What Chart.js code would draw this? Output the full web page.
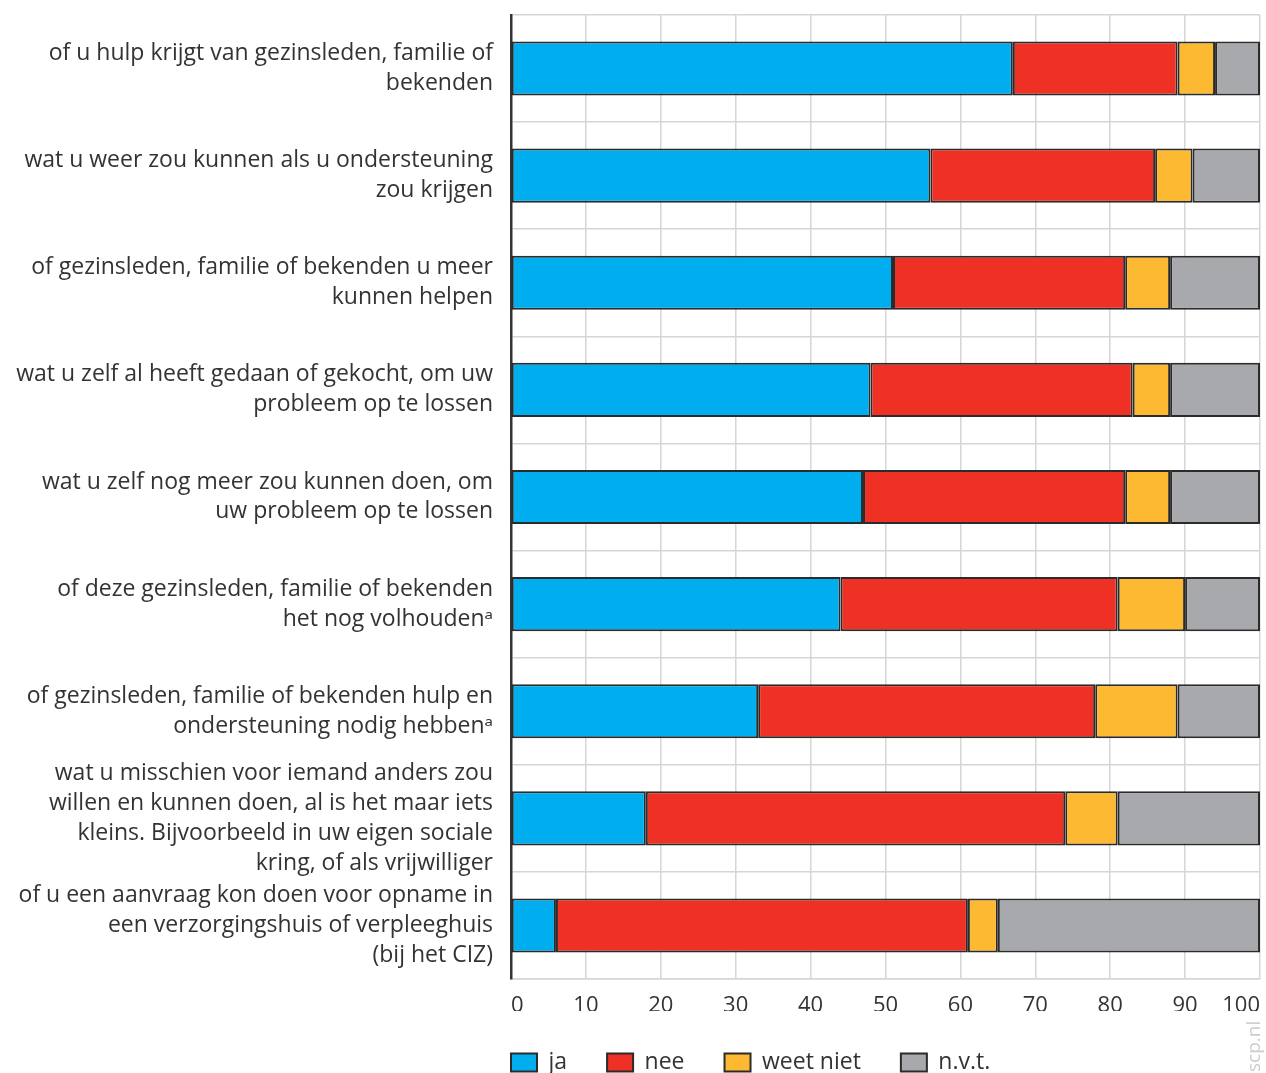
<!DOCTYPE html>
<html>
<head>
<meta charset="utf-8">
<script src="https://cdn.jsdelivr.net/npm/chart.js@4.4.1/dist/chart.umd.min.js"></script>
<style>
html,body{margin:0;padding:0;background:#fff;}
#wrap{width:1266px;height:1073px;position:relative;}
</style>
</head>
<body>
<div id="wrap"><canvas id="c" width="1266" height="1073"></canvas></div>
<script>
const categories = [
  ["of u hulp krijgt van gezinsleden, familie of", "bekenden"],
  ["wat u weer zou kunnen als u ondersteuning", "zou krijgen"],
  ["of gezinsleden, familie of bekenden u meer", "kunnen helpen"],
  ["wat u zelf al heeft gedaan of gekocht, om uw", "probleem op te lossen"],
  ["wat u zelf nog meer zou kunnen doen, om", "uw probleem op te lossen"],
  ["of deze gezinsleden, familie of bekenden", "het nog volhoudenᵃ"],
  ["of gezinsleden, familie of bekenden hulp en", "ondersteuning nodig hebbenᵃ"],
  ["wat u misschien voor iemand anders zou", "willen en kunnen doen, al is het maar iets", "kleins. Bijvoorbeeld in uw eigen sociale", "kring, of als vrijwilliger"],
  ["of u een aanvraag kon doen voor opname in", "een verzorgingshuis of verpleeghuis", "(bij het CIZ)"]
];
const seriesNames = ["ja", "nee", "weet niet", "n.v.t."];
const ja       = [67, 56, 51, 48, 47, 44, 33, 18, 6];
const nee      = [22, 30, 31, 35, 35, 37, 45, 56, 55];
const weetNiet = [5, 5, 6, 5, 6, 9, 11, 7, 4];
const nvt      = [6, 9, 12, 12, 12, 10, 11, 19, 35];
const xTicks   = [0, 10, 20, 30, 40, 50, 60, 70, 80, 90, 100];

const colors = ["#00AEEF", "#EE3124", "#FDB931", "#A7A9AC"];
const FONT = "'Open Sans', 'Noto Sans', sans-serif";

const layoutFix = {
  id: 'layoutFix',
  beforeLayout(chart) {
    const lg = chart.legend;
    if (lg && !lg._patched) {
      const f = lg.fit.bind(lg);
      lg.fit = function () { f(); this.height = 62; };
      lg._patched = true;
    }
  },
  afterLayout(chart) {
    const lg = chart.legend;
    if (lg) {
      const pad = lg.options.labels.padding;
      lg.left = chart.chartArea.left - pad;
    }
  },
  afterDraw(chart) {
    const ctx = chart.ctx;
    ctx.save();
    ctx.translate(1264, 1072);
    ctx.rotate(-Math.PI / 2);
    ctx.font = "19px " + FONT;
    ctx.fillStyle = "#cccccc";
    ctx.textAlign = "left";
    ctx.textBaseline = "bottom";
    ctx.fillText("scp.nl", 0, 0);
    ctx.restore();
  }
};

new Chart(document.getElementById('c'), {
  type: 'bar',
  data: {
    labels: categories,
    datasets: [ja, nee, weetNiet, nvt].map((d, i) => ({
      label: seriesNames[i],
      data: d,
      backgroundColor: colors[i],
      borderColor: "#2b2b2b",
      borderWidth: 2,
      borderSkipped: false,
      categoryPercentage: 0.505,
      barPercentage: 1
    }))
  },
  options: {
    indexAxis: 'y',
    responsive: false,
    animation: false,
    devicePixelRatio: 1,
    layout: { padding: { top: 15, right: 6, bottom: 0, left: 0 } },
    scales: {
      x: {
        stacked: true,
        min: 0, max: 100,
        afterBuildTicks(scale) { scale.ticks = xTicks.map(v => ({ value: v })); },
        afterFit(scale) { scale.paddingLeft = 0; scale.paddingRight = 0; scale.height = 32; },
        grid: { color: "#d6d6d6", lineWidth: 1.5, drawTicks: false },
        border: { color: "#d6d6d6", width: 1.5 },
        ticks: {
          color: "#333", font: { family: FONT, size: 22 }, padding: 14,
          maxRotation: 0, minRotation: 0, autoSkip: false, align: 'inner'
        }
      },
      y: {
        stacked: true,
        afterFit(scale) { scale.width = 511; scale.paddingTop = 0; scale.paddingBottom = 0; },
        grid: { color: "#d6d6d6", lineWidth: 1.5, drawTicks: false, offset: true },
        border: { color: "#333", width: 2.5 },
        ticks: { autoSkip: false, color: "#333", font: { family: FONT, size: 23, lineHeight: 1.3 }, padding: 18 }
      }
    },
    plugins: {
      tooltip: { enabled: false },
      legend: {
        position: 'bottom',
        align: 'start',
        fullSize: false,
        labels: {
          color: "#333",
          font: { family: FONT, size: 23 },
          boxWidth: 26,
          boxHeight: 18,
          padding: 40,
          useBorderRadius: false
        }
      }
    }
  },
  plugins: [layoutFix]
});
</script>
</body>
</html>
